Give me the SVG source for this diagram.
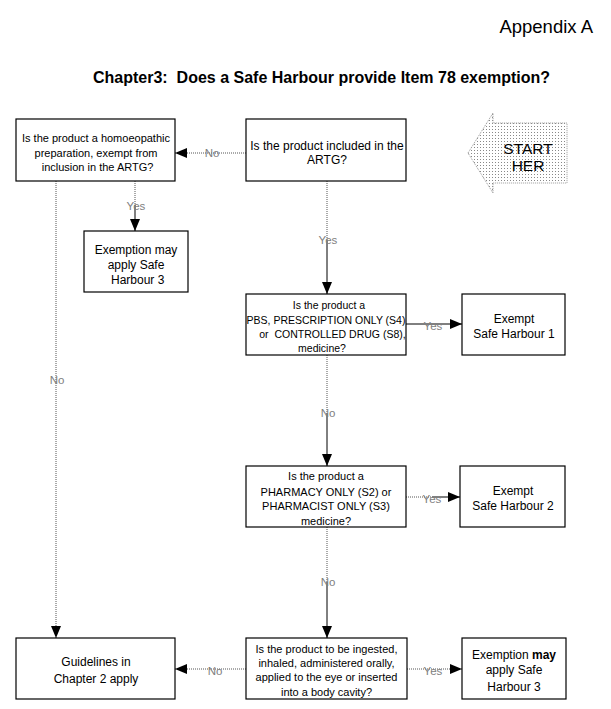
<svg xmlns="http://www.w3.org/2000/svg" width="611" height="709" viewBox="0 0 611 709">
<style>
text{font-family:"Liberation Sans",Arial,sans-serif;fill:#000;white-space:pre}
.box{fill:#fff;stroke:#000;stroke-width:1.2}
.s{font-size:11px;text-anchor:middle}
.p{font-size:10.5px;text-anchor:middle}
.m{font-size:12px;text-anchor:middle}
.lbl{font-size:11.5px;text-anchor:middle;fill:#808080}
.dot{fill:none;stroke:#555;stroke-width:1;stroke-dasharray:1 1}
.sol{fill:none;stroke:#000;stroke-width:1}
</style>
<defs>
<marker id="ah" markerUnits="userSpaceOnUse" markerWidth="12" markerHeight="10" refX="12" refY="5" orient="auto">
<path d="M0,0 L12,5 L0,10 z" fill="#000"/>
</marker>
<pattern id="dots" width="3" height="3" patternUnits="userSpaceOnUse">
<rect x="0" y="0" width="1" height="1" fill="#888"/>
</pattern>
</defs>
<text x="593" y="33" style="font-size:18.5px;text-anchor:end">Appendix A</text>
<text x="93" y="83" style="font-size:16px;font-weight:bold">Chapter3:  Does a Safe Harbour provide Item 78 exemption?</text>

<g id="connectors">
<path class="dot" d="M246,153 L175,153" marker-end="url(#ah)"/>
<path class="dot" d="M135,181 L135,205"/>
<path class="sol" d="M135,205 L135,231" marker-end="url(#ah)"/>
<path class="dot" d="M56,181 L56,638" marker-end="url(#ah)"/>
<path class="dot" d="M327,181 L327,240"/>
<path class="sol" d="M327,240 L327,294" marker-end="url(#ah)"/>
<path class="sol" d="M406,324 L462,324" marker-end="url(#ah)"/>
<path class="dot" d="M327,355 L327,413"/>
<path class="sol" d="M327,413 L327,466" marker-end="url(#ah)"/>
<path class="dot" d="M406,497 L432,497"/>
<path class="sol" d="M432,497 L460,497" marker-end="url(#ah)"/>
<path class="dot" d="M327,527 L327,582"/>
<path class="sol" d="M327,582 L327,638" marker-end="url(#ah)"/>
<path class="dot" d="M246,669 L175,669" marker-end="url(#ah)"/>
<path class="dot" d="M407,669 L462,669" marker-end="url(#ah)"/>
<text class="lbl" x="212" y="157">No</text>
<text class="lbl" x="136" y="210">Yes</text>
<text class="lbl" x="57" y="384">No</text>
<text class="lbl" x="328" y="244">Yes</text>
<text class="lbl" x="433" y="330">Yes</text>
<text class="lbl" x="328" y="417">No</text>
<text class="lbl" x="432" y="503">Yes</text>
<text class="lbl" x="328" y="586">No</text>
<text class="lbl" x="215" y="675">No</text>
<text class="lbl" x="433" y="675">Yes</text>
</g>

<g id="start">
<polygon points="468,153 493,113 493,123 567,123 567,183 493,183 493,193" fill="url(#dots)" stroke="#999" stroke-width="1" stroke-dasharray="1 1"/>
<text x="528" y="153.5" style="font-size:15.5px;text-anchor:middle">START</text>
<text x="528" y="170.5" style="font-size:15.5px;text-anchor:middle">HER</text>
</g>

<g id="homoeopathic">
<rect class="box" x="16" y="119" width="159" height="62"/>
<text class="s" x="96" y="141.5">Is the product a homoeopathic</text>
<text class="s" x="96" y="156.5">preparation, exempt from</text>
<text class="s" x="96" y="170.5"> inclusion in the ARTG?</text>
</g>

<g id="artg">
<rect class="box" x="246" y="119" width="160" height="62"/>
<text class="m" x="327" y="150">Is the product included in the</text>
<text class="m" x="327" y="164">ARTG?</text>
</g>

<g id="sh3top">
<rect class="box" x="84" y="231" width="104" height="61"/>
<text class="m" x="136" y="253.5">Exemption may</text>
<text class="m" x="136" y="269">apply Safe</text>
<text class="m" x="136" y="284"> Harbour 3</text>
</g>

<g id="pbs">
<rect class="box" x="246" y="294" width="160" height="61"/>
<text class="p" x="329" y="309">Is the product a</text>
<text class="p" x="326" y="324">PBS, PRESCRIPTION ONLY (S4)</text>
<text class="p" x="331" y="338"> or  CONTROLLED DRUG (S8),</text>
<text class="p" x="322" y="351.5">medicine?</text>
</g>

<g id="sh1">
<rect class="box" x="462" y="294" width="103" height="61"/>
<text class="m" x="514" y="323">Exempt</text>
<text class="m" x="514" y="338">Safe Harbour 1</text>
</g>

<g id="pharmacy">
<rect class="box" x="246" y="466" width="160" height="61"/>
<text class="s" x="326" y="480">Is the product a</text>
<text class="s" x="326" y="496">PHARMACY ONLY (S2) or</text>
<text class="s" x="326" y="510">PHARMACIST ONLY (S3)</text>
<text class="s" x="326" y="525">medicine?</text>
</g>

<g id="sh2">
<rect class="box" x="460" y="466" width="105" height="61"/>
<text class="m" x="513" y="495">Exempt</text>
<text class="m" x="513" y="510">Safe Harbour 2</text>
</g>

<g id="guidelines">
<rect class="box" x="16" y="638" width="159" height="61"/>
<text class="m" x="96" y="666">Guidelines in</text>
<text class="m" x="96" y="683">Chapter 2 apply</text>
</g>

<g id="ingest">
<rect class="box" x="246" y="638" width="161" height="61"/>
<text class="s" x="326.5" y="652.5">Is the product to be ingested,</text>
<text class="s" x="326.5" y="666.5">inhaled, administered orally,</text>
<text class="s" x="326.5" y="681">applied to the eye or inserted</text>
<text class="s" x="326.5" y="696">into a body cavity?</text>
</g>

<g id="sh3bottom">
<rect class="box" x="462" y="638" width="104" height="61"/>
<text class="m" x="514" y="659">Exemption <tspan font-weight="bold">may</tspan></text>
<text class="m" x="514" y="674">apply Safe</text>
<text class="m" x="514" y="691">Harbour 3</text>
</g>
</svg>
